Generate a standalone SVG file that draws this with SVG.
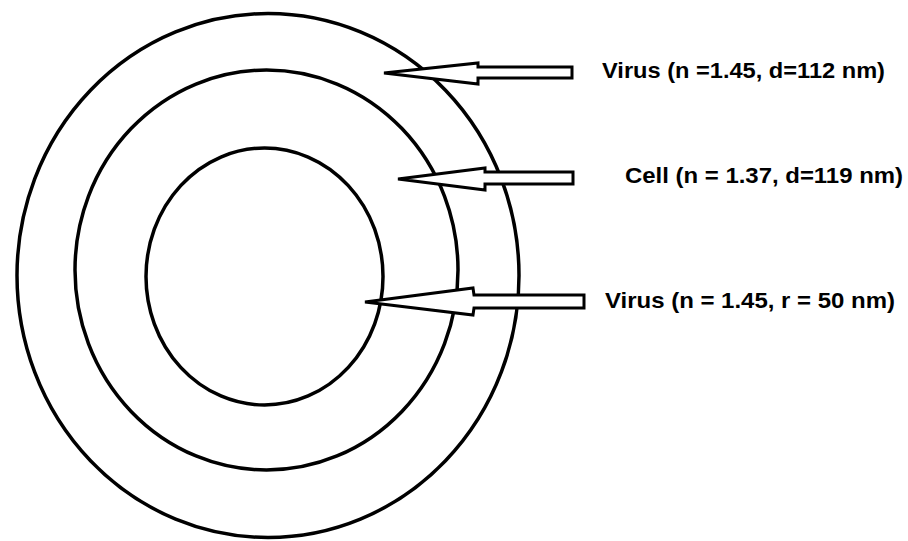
<svg xmlns="http://www.w3.org/2000/svg" width="908" height="541" viewBox="0 0 908 541">
<style>
.ring{fill:none;stroke:#000;stroke-width:3.5}
.arrow{fill:#fff;stroke:#000;stroke-width:3;stroke-linejoin:miter}
.lbl{font-family:"Liberation Sans",Arial,sans-serif;font-weight:bold;font-size:22px;fill:#000}
</style>
<rect width="908" height="541" fill="#fff"/>
<g id="outer-virus"><ellipse class="ring" cx="268" cy="275.5" rx="251" ry="262"/></g>
<g id="cell"><ellipse class="ring" cx="266.5" cy="270" rx="191.5" ry="200"/></g>
<g id="inner-virus"><ellipse class="ring" cx="264.5" cy="276.5" rx="118.5" ry="128.5"/></g>
<g id="connectors">
<path class="arrow" d="M384,73 L478,63 L478,67 L572,67 L572,78 L478,78 L478,84 Z"/>
<path class="arrow" d="M398,179 L485,168 L485,172 L573,172 L573,184 L485,184 L485,190 Z"/>
<path class="arrow" d="M365,302 L473,288 L474,295 L584,295 L584,308 L474,308 L473,315 Z"/>
</g>
<g id="label-virus-outer"><text class="lbl" x="602" y="78" textLength="283" lengthAdjust="spacingAndGlyphs">Virus (n =1.45, d=112 nm)</text></g>
<g id="label-cell"><text class="lbl" x="625" y="183" textLength="278" lengthAdjust="spacingAndGlyphs">Cell (n = 1.37, d=119 nm)</text></g>
<g id="label-virus-inner"><text class="lbl" x="605" y="308" textLength="290" lengthAdjust="spacingAndGlyphs">Virus (n = 1.45, r = 50 nm)</text></g>
</svg>
